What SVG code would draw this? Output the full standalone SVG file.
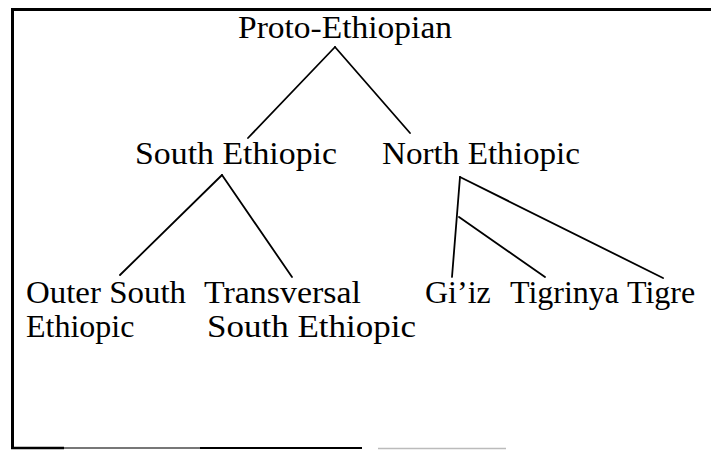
<svg xmlns="http://www.w3.org/2000/svg" width="711" height="451" viewBox="0 0 711 451">
<style>
.c line{stroke:#000;stroke-width:1.8;stroke-linecap:round}
.frame{stroke:#000;fill:none}
</style>
<rect width="711" height="451" fill="#fff"/>
<g id="frame">
<line class="frame" x1="11" y1="9.5" x2="711" y2="9.5" stroke-width="3"/>
<line class="frame" x1="12.5" y1="8" x2="12.5" y2="449" stroke-width="3"/>
<line class="frame" x1="11" y1="448" x2="64" y2="448" stroke-width="2.5"/>
<line x1="64" y1="448" x2="200" y2="448" stroke="#777" stroke-width="2"/>
<line class="frame" x1="200" y1="448" x2="362" y2="448" stroke-width="2"/>
<line x1="378" y1="448.5" x2="506" y2="448.5" stroke="#bbb" stroke-width="1.5"/>
</g>
<g class="c" id="connectors">
<line x1="335" y1="47" x2="248" y2="138"/>
<line x1="335" y1="47" x2="410" y2="133"/>
<line x1="222" y1="175" x2="120" y2="275"/>
<line x1="222" y1="175" x2="292" y2="277"/>
<line x1="460" y1="177" x2="452" y2="277"/>
<line x1="460" y1="177" x2="663" y2="278"/>
<line x1="459" y1="217" x2="545" y2="277"/>
</g>
<g font-family="Liberation Serif, Tinos, Times New Roman, DejaVu Serif, serif" font-size="32" fill="#000">
<g id="proto"><text x="238" y="38" textLength="214" lengthAdjust="spacingAndGlyphs">Proto-Ethiopian</text></g>
<g id="south"><text x="135" y="164" textLength="202" lengthAdjust="spacingAndGlyphs">South Ethiopic</text></g>
<g id="north"><text x="382" y="164" textLength="198" lengthAdjust="spacingAndGlyphs">North Ethiopic</text></g>
<g id="outer"><text x="26" y="303" textLength="160" lengthAdjust="spacingAndGlyphs">Outer South</text><text x="26" y="337">Ethiopic</text></g>
<g id="transversal"><text x="204" y="303" textLength="157" lengthAdjust="spacingAndGlyphs">Transversal</text><text x="207" y="337" textLength="209" lengthAdjust="spacingAndGlyphs">South Ethiopic</text></g>
<g id="giiz"><text x="425" y="303">Gi’iz</text></g>
<g id="tigrinya"><text x="510" y="303">Tigrinya</text></g>
<g id="tigre"><text x="627" y="303">Tigre</text></g>
</g>
</svg>
